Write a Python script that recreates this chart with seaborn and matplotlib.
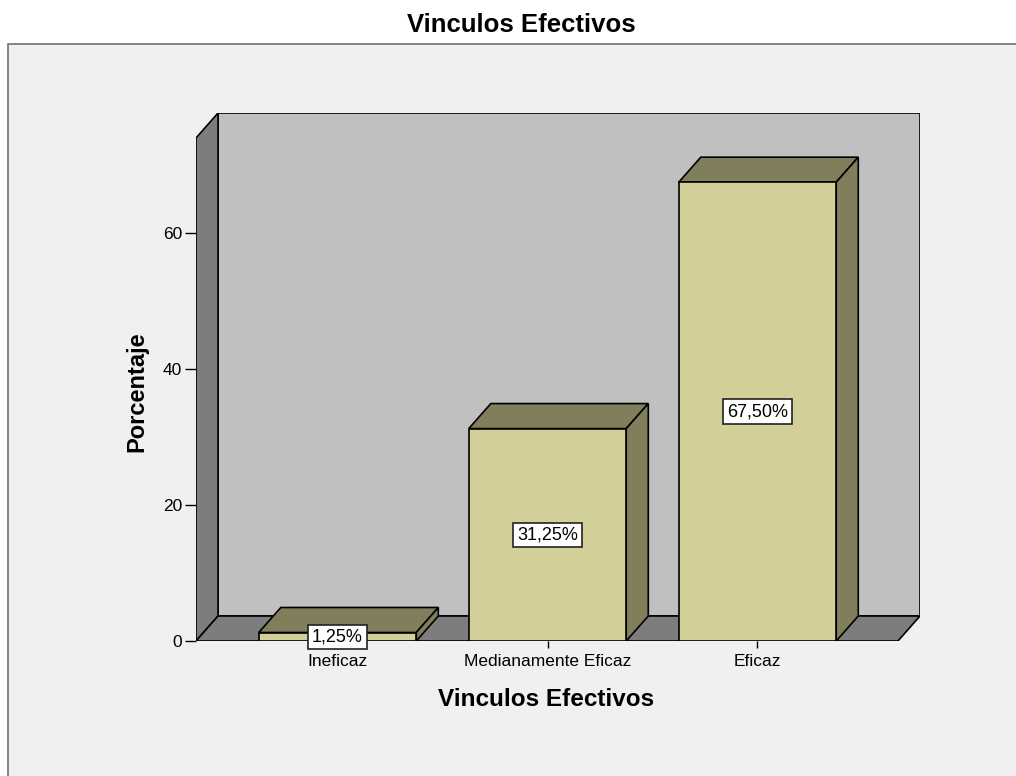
import matplotlib
matplotlib.use("Agg")
import matplotlib.pyplot as plt
from matplotlib.patches import Polygon, Rectangle
import pandas as pd
import seaborn as sns

# data
categorias = ["Ineficaz", "Medianamente Eficaz", "Eficaz"]
porcentajes = [1.25, 31.25, 67.50]
etiquetas = ["1,25%", "31,25%", "67,50%"]
yticks = [0, 20, 40, 60]

# colours (SPSS style)
FRONT = "#d3cf98"
DARK = "#817f5b"
BACK_WALL = "#c0c0c0"
SIDE_WALL = "#7d7d7d"
PANEL = "#f0f0f0"

sns.set_theme(style="white")
plt.rcParams["font.family"] = ["Liberation Sans", "DejaVu Sans"]
plt.rcParams["text.color"] = "black"
plt.rcParams["axes.labelcolor"] = "black"

W, H = 1016, 776
fig = plt.figure(figsize=(W / 100, H / 100), dpi=100)
fig.patch.set_facecolor("white")

# outer grey panel with border
panel = Rectangle((8 / W, -0.01), 1.0, 1 - 44 / H + 0.01,
                  transform=fig.transFigure, facecolor=PANEL,
                  edgecolor="#707070", lw=1.2, zorder=-5)
fig.patches.append(panel)
fig.text(521 / W, 1 - 25 / H, "Vinculos Efectivos", ha="center", va="center",
         fontsize=18.5, fontweight="bold", color="black")

ax = fig.add_axes([196 / W, (H - 641) / H, 724 / W, 528 / H])
ax.set_facecolor("none")

df = pd.DataFrame({"cat": categorias, "pct": porcentajes})
sns.barplot(data=df, x="cat", y="pct", color=FRONT, saturation=1,
            edgecolor="black", linewidth=1.2, width=0.75, ax=ax, zorder=2)
bars = list(ax.patches)

x0, x1 = -0.674, 2.669
ymax = 74
dx, dy = 0.105, 3.68

ax.set_xlim(x0, x1 + dx)
ax.set_ylim(0, ymax + dy)

# walls and floor
ax.add_patch(Rectangle((x0 + dx, dy), x1 - x0, ymax, facecolor=BACK_WALL,
                       edgecolor="black", lw=1.2, zorder=0.5))
ax.add_patch(Polygon([(x0, 0), (x0 + dx, dy), (x0 + dx, ymax + dy), (x0, ymax)],
                     closed=True, facecolor=SIDE_WALL, edgecolor="black",
                     lw=1.2, zorder=0.6))
ax.add_patch(Polygon([(x0, 0), (x1, 0), (x1 + dx, dy), (x0 + dx, dy)],
                     closed=True, facecolor=SIDE_WALL, edgecolor="black",
                     lw=1.2, zorder=0.6))

# 3d top and side of each bar
for bar, lab in zip(bars, etiquetas):
    bx, bw, bh = bar.get_x(), bar.get_width(), bar.get_height()
    top = [(bx, bh), (bx + dx, bh + dy), (bx + bw + dx, bh + dy), (bx + bw, bh)]
    side = [(bx + bw, 0), (bx + bw + dx, dy), (bx + bw + dx, bh + dy), (bx + bw, bh)]
    ax.add_patch(Polygon(top, closed=True, facecolor=DARK, edgecolor="black",
                         lw=1.2, zorder=1.8))
    ax.add_patch(Polygon(side, closed=True, facecolor=DARK, edgecolor="black",
                         lw=1.2, zorder=1.8))
    ax.text(bx + bw / 2, max(bh / 2, 0.6), lab, ha="center", va="center",
            fontsize=13, zorder=5, color="black",
            bbox=dict(boxstyle="square,pad=0.2", facecolor="white",
                      edgecolor="#222222", lw=1.2))

for s in ax.spines.values():
    s.set_visible(False)

ax.set_yticks(yticks)
ax.set_yticklabels([str(t) for t in yticks], fontsize=12.5)
ax.tick_params(axis="y", left=True, length=8, width=1, pad=2, colors="black")
ax.tick_params(axis="x", bottom=True, length=5, width=1, pad=4, colors="black",
               labelsize=12.5)
ax.set_xlabel("Vinculos Efectivos", fontsize=17.5, fontweight="bold")
ax.set_ylabel("Porcentaje", fontsize=17, fontweight="bold")
ax.xaxis.set_label_coords((546 - 196) / 724, -(700 - 641) / 528)
ax.yaxis.set_label_coords((137 - 196) / 724, (641 - 392) / 528)
ax.xaxis.label.set_va("center")
ax.yaxis.label.set_va("center")

fig.savefig("out.png", dpi=100, facecolor=fig.get_facecolor())
